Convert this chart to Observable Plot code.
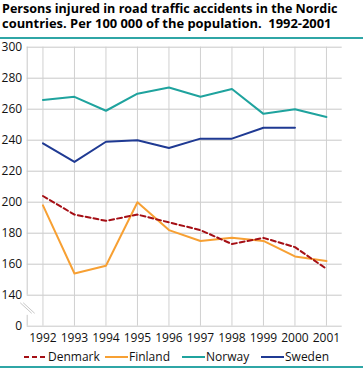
<!DOCTYPE html>
<html>
<head>
<meta charset="utf-8">
<script src="https://cdn.jsdelivr.net/npm/d3@7"></script>
<script src="https://cdn.jsdelivr.net/npm/@observablehq/plot@0.6"></script>
<style>
  html, body { margin: 0; padding: 0; background: #fff; }
  body { width: 363px; height: 369px; overflow: hidden; font-family: "Open Sans", sans-serif; position: relative; }
  #title { display: block; }
  #title text { font-family: "Open Sans", sans-serif; font-weight: bold; font-size: 13px; fill: #000; }
  #rule1 { height: 2px; background: #2fa6a6; margin: 0; }
  #chart svg { display: block; overflow: visible; }
  #legend { position: relative; height: 20px; font-size: 12px; color: #111; }
  .item { position: absolute; top: 3px; display: flex; align-items: center; }
  .item svg { margin-right: 1px; }
  #rule2 { position: absolute; top: 366px; left: 0; width: 363px; height: 2px; background: #2fa6a6; }
</style>
</head>
<body>
<svg id="title" width="363" height="37">
  <text id="t1" x="2" y="13" textLength="335.5" lengthAdjust="spacingAndGlyphs">Persons injured in road traffic accidents in the Nordic</text>
  <text id="t2" x="2" y="28" textLength="329.5" lengthAdjust="spacingAndGlyphs" xml:space="preserve">countries. Per 100 000 of the population.  1992-2001</text>
</svg>
<div id="rule1"></div>
<div id="chart"></div>
<div id="legend"></div>
<div id="rule2"></div>
<script>
const years = [1992, 1993, 1994, 1995, 1996, 1997, 1998, 1999, 2000, 2001];
const denmark = [204, 192, 188, 192, 187, 182, 173, 177, 171, 157];
const finland = [198, 154, 159, 200, 182, 175, 177, 175, 165, 162];
const norway  = [266, 268, 259, 270, 274, 268, 273, 257, 260, 255];
const sweden  = [238, 226, 239, 240, 235, 241, 241, 248, 248, null];
const countries = ["Denmark", "Finland", "Norway", "Sweden"];
const colors = ["#a50f15", "#f7a033", "#1fa39e", "#1f3a93"];
const yTicks = [120, 140, 160, 180, 200, 220, 240, 260, 280, 300];
const yTickLabels = ["0", "140", "160", "180", "200", "220", "240", "260", "280", "300"];
const breakValue = 120; // axis position standing for 0 (broken axis)

const seriesValues = [denmark, finland, norway, sweden];
const data = [];
countries.forEach((c, i) => {
  years.forEach((yr, j) => {
    const v = seriesValues[i][j];
    if (v != null) data.push({country: c, year: yr, value: v});
  });
});

const font = "'Open Sans', sans-serif";
const x0 = 1991.5;

function breakMark(index, scales) {
  const g = d3.create("svg:g");
  const xp = scales.x(x0), ya = scales.y(134.8), yb = scales.y(128);
  [-1.5, 1.5].forEach(o => {
    g.append("line").attr("x1", xp - 5 + o).attr("y1", ya).attr("x2", xp + 6.5 + o).attr("y2", yb)
      .attr("stroke", "#c8c8c8").attr("stroke-width", 1);
  });
  return g.node();
}

const chart = Plot.plot({
  width: 363,
  height: 306,
  marginLeft: 26.7,
  marginRight: 21.3,
  marginTop: 7.7,
  marginBottom: 19.3,
  style: {fontFamily: font, fontSize: "12px", color: "#111", background: "#fff", overflow: "visible"},
  x: {domain: [x0, 2001.5], label: null},
  y: {domain: [breakValue, 300], label: null},
  marks: [
    Plot.ruleY(yTicks, {stroke: "#c8c8c8", strokeWidth: 1}),
    Plot.ruleX(years, {y1: breakValue, y2: 300, stroke: "#d0d0d0", strokeWidth: 1}),
    Plot.ruleX([x0], {y1: 140, y2: 300, stroke: "#c8c8c8"}),
    Plot.ruleX([x0], {y1: breakValue, y2: 127, stroke: "#c8c8c8"}),
    breakMark,
    Plot.axisY(yTicks, {tickSize: 0, tickPadding: 5, tickFormat: d => yTickLabels[yTicks.indexOf(d)], fontSize: 12}),
    Plot.axisX(years, {tickSize: 0, tickPadding: 7, tickFormat: d => String(d), fontSize: 12}),
    Plot.line(data.filter(d => d.country === "Finland"), {x: "year", y: "value", stroke: colors[1], strokeWidth: 2}),
    Plot.line(data.filter(d => d.country === "Norway"), {x: "year", y: "value", stroke: colors[2], strokeWidth: 2}),
    Plot.line(data.filter(d => d.country === "Sweden"), {x: "year", y: "value", stroke: colors[3], strokeWidth: 2}),
    Plot.line(data.filter(d => d.country === "Denmark"), {x: "year", y: "value", stroke: colors[0], strokeWidth: 2, strokeDasharray: "5,3"})
  ]
});
document.getElementById("chart").appendChild(chart);

const legend = d3.select("#legend");
const legendX = [24, 105, 182, 261];
countries.forEach((c, i) => {
  const item = legend.append("div").attr("class", "item").style("left", legendX[i] + "px");
  const sw = item.append("svg").attr("width", 23).attr("height", 10);
  sw.append("line").attr("x1", 0).attr("x2", 23).attr("y1", 5).attr("y2", 5)
    .attr("stroke", colors[i]).attr("stroke-width", 2)
    .attr("stroke-dasharray", c === "Denmark" ? "5,3" : null);
  item.append("span").text(c);
});
</script>
</body>
</html>
